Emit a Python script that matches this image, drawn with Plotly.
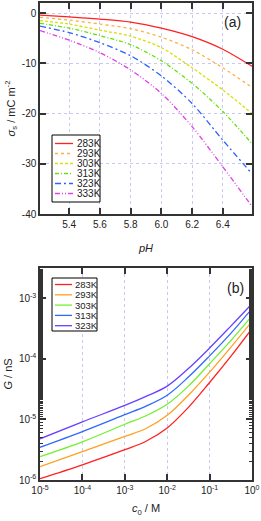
import plotly.graph_objects as go

# ---------------- data: panel (a) ----------------
ph = [5.21, 5.4, 5.6, 5.8, 6.0, 6.2, 6.4, 6.59]
temps_a = ["283K", "293K", "303K", "313K", "323K", "333K"]
sigma_283 = [-0.4, -0.75, -1.2, -1.8, -3.0, -4.7, -7.2, -10.6]
sigma_293 = [-0.87, -1.4, -2.2, -3.1, -4.8, -7.3, -10.9, -14.8]
sigma_303 = [-1.5, -2.2, -3.4, -4.6, -6.9, -10.9, -15.3, -20.0]
sigma_313 = [-2.05, -3.0, -4.5, -6.3, -9.5, -14.0, -19.6, -26.0]
sigma_323 = [-2.6, -3.9, -5.9, -8.5, -12.5, -18.0, -25.3, -32.0]
sigma_333 = [-3.5, -5.4, -7.9, -11.3, -16.0, -22.6, -30.6, -38.5]

# ---------------- data: panel (b) ----------------
c0 = [1e-5, 1e-4, 1e-3, 10**-2.5, 1e-2, 10**-1.5, 1e-1, 10**-0.5, 1.0]
temps_b = ["283K", "293K", "303K", "313K", "323K"]
G_283 = [1.05e-6, 1.78e-6, 3.16e-6, 4.37e-6, 7.24e-6, 1.58e-5, 4.07e-5, 1.10e-4, 3.16e-4]
G_293 = [1.66e-6, 2.95e-6, 5.25e-6, 7.08e-6, 1.17e-5, 2.51e-5, 6.03e-5, 1.55e-4, 4.17e-4]
G_303 = [2.43e-6, 4.27e-6, 8.32e-6, 1.15e-5, 1.78e-5, 3.55e-5, 8.32e-5, 2.00e-4, 5.13e-4]
G_313 = [3.47e-6, 6.31e-6, 1.20e-5, 1.66e-5, 2.51e-5, 5.01e-5, 1.12e-4, 2.63e-4, 6.76e-4]
G_323 = [4.79e-6, 9.12e-6, 1.70e-5, 2.40e-5, 3.55e-5, 6.92e-5, 1.51e-4, 3.47e-4, 8.13e-4]

ph_ticks = [5.4, 5.6, 5.8, 6.0, 6.2, 6.4]
sigma_ticks = [0, -10, -20, -30, -40]
c_ticks = [1e-5, 1e-4, 1e-3, 1e-2, 1e-1, 1.0]
c_ticklabels = ["10<sup>-5</sup>", "10<sup>-4</sup>", "10<sup>-3</sup>", "10<sup>-2</sup>", "10<sup>-1</sup>", "10<sup>0</sup>"]
G_ticks = [1e-6, 1e-5, 1e-4, 1e-3]
G_ticklabels = ["10<sup>-6</sup>", "10<sup>-5</sup>", "10<sup>-4</sup>", "10<sup>-3</sup>"]

# ---------------- styles ----------------
colors_a = ["#ff2020", "#ffb040", "#d8e000", "#66e010", "#3060ff", "#e040e8"]
dashes_a = ["solid", "dot", "3px,2px", "4px,2px,1px,2px", "6px,3px,2px,3px", "5px,2px,1px,2px,1px,2px"]
colors_b = ["#ff2020", "#ffa020", "#70f030", "#3068ff", "#6a40ff"]

FONT = "Arial, Liberation Sans, Helvetica, sans-serif"
AX = "#333333"
GRID = "#c8c8f4"

W, H = 261, 521
ML, MR, MT, MB = 40, 9, 3, 41
PW, PH_ = W - ML - MR, H - MT - MB


def px(x):
    return (x - ML) / PW


def py(y):
    return (H - MB - y) / PH_


fig = go.Figure()

for name, ys, col, dsh in zip(temps_a,
                              [sigma_283, sigma_293, sigma_303, sigma_313, sigma_323, sigma_333],
                              colors_a, dashes_a):
    fig.add_trace(go.Scatter(x=ph, y=ys, mode="lines", name=name, showlegend=False,
                             line=dict(color=col, width=1.3, dash=dsh, shape="spline", smoothing=0.8),
                             xaxis="x", yaxis="y"))

for name, ys, col in zip(temps_b, [G_283, G_293, G_303, G_313, G_323], colors_b):
    fig.add_trace(go.Scatter(x=c0, y=ys, mode="lines", name=name, showlegend=False,
                             line=dict(color=col, width=1.3, shape="spline", smoothing=1.0),
                             xaxis="x2", yaxis="y2"))

axis_common = dict(showline=True, linecolor=AX, linewidth=1.5, mirror="ticks",
                   ticks="inside", ticklen=6, tickwidth=1.5, tickcolor=AX,
                   tickfont=dict(size=10, color="#222", family=FONT), zeroline=False,
                   automargin=False)

# ---- hand-drawn legends (boxes, samples, labels) ----
shapes = []
annotations = []


def legend_box(x0, x1, y0, y1, names, colors, dashes, ycenters, lx0, lx1, tx, fsize):
    shapes.append(dict(type="rect", xref="paper", yref="paper",
                       x0=px(x0), x1=px(x1), y0=py(y0), y1=py(y1),
                       line=dict(color="#000", width=1), fillcolor="white", layer="above"))
    for n, c, d, yc in zip(names, colors, dashes, ycenters):
        shapes.append(dict(type="line", xref="paper", yref="paper",
                           x0=px(lx0), x1=px(lx1), y0=py(yc), y1=py(yc),
                           line=dict(color=c, width=1.3, dash=d), layer="above"))
        annotations.append(dict(text=n, xref="paper", yref="paper", x=px(tx), y=py(yc),
                                xanchor="left", yanchor="middle", showarrow=False,
                                font=dict(size=fsize, family=FONT, color="#222")))


legend_box(52, 100, 135, 202, temps_a, colors_a, dashes_a,
           [143.5, 153.5, 163.5, 173.5, 183.5, 193.5], 55, 73, 75, 10)
legend_box(52, 97, 278, 331, temps_b, colors_b, ["solid"] * 5,
           [284.5, 294.8, 305.1, 315.4, 325.7], 55, 72, 72.5, 9.5)

annotations.append(dict(text="(a)", x=px(232), y=py(22), xref="paper", yref="paper",
                        xanchor="center", yanchor="middle", showarrow=False,
                        font=dict(size=14, family=FONT, color="#222")))
annotations.append(dict(text="(b)", x=px(235), y=py(288), xref="paper", yref="paper",
                        xanchor="center", yanchor="middle", showarrow=False,
                        font=dict(size=14, family=FONT, color="#222")))

fig.update_layout(
    width=W, height=H,
    margin=dict(l=ML, r=MR, t=MT, b=MB),
    paper_bgcolor="white", plot_bgcolor="white",
    font=dict(family=FONT, size=10, color="#222"),
    showlegend=False,
    xaxis=dict(domain=[0, 1], anchor="y", range=[5.21, 6.59],
               tickvals=ph_ticks, ticktext=["%.1f" % v for v in ph_ticks],
               showgrid=True, gridcolor=GRID, griddash="dot", gridwidth=1,
               title=dict(text="<i>pH</i>", font=dict(size=11), standoff=16),
               **axis_common),
    yaxis=dict(domain=[py(214), 1], anchor="x", range=[-40, 2],
               tickvals=sigma_ticks, ticktext=[str(v) for v in sigma_ticks],
               showgrid=True, gridcolor=GRID, griddash="dot", gridwidth=1,
               title=dict(text="<i>σ</i><sub>s</sub> / mC m<sup>-2</sup>", font=dict(size=11), standoff=4),
               **axis_common),
    xaxis2=dict(domain=[0, 1], anchor="y2", type="log", range=[-5, 0],
                tickvals=c_ticks, ticktext=c_ticklabels,
                showgrid=True, gridcolor=GRID, griddash="dot", gridwidth=1,
                title=dict(text="<i>c</i><sub>0</sub> / M", font=dict(size=11), standoff=10),
                **axis_common),
    yaxis2=dict(domain=[0, py(268)], anchor="x2", type="log", range=[-6, -2.5],
                tickvals=G_ticks, ticktext=G_ticklabels,
                showgrid=False,
                minor=dict(ticks="inside", ticklen=3, tickwidth=1, tickcolor=AX, showgrid=False),
                title=dict(text="<i>G</i> / nS", font=dict(size=11), standoff=4),
                **axis_common),
    shapes=shapes,
    annotations=annotations,
)

fig.write_html("out.html", config={"displayModeBar": False},
               post_script="document.body.style.margin='0';")
